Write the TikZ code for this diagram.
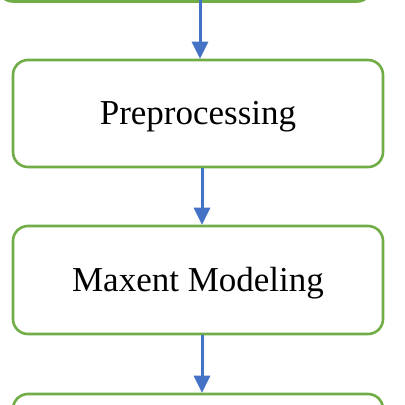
\documentclass[tikz,border=0pt]{standalone}
\usepackage{fontspec}
\setmainfont{Liberation Serif}
\usetikzlibrary{arrows.meta}
\definecolor{boxgreen}{HTML}{70AD47}
\definecolor{arrowblue}{HTML}{4472C4}
\newcommand{\lowtext}[1]{\raisebox{-3pt}[\height][\depth]{#1}}
\begin{document}
\begin{tikzpicture}[x=1pt,y=-1pt,
  stepbox/.style={draw=boxgreen, line width=2.6pt, rounded corners=15pt, fill=white,
    minimum width=370pt, minimum height=107pt, inner sep=0pt,
    font=\fontsize{35pt}{40pt}\selectfont},
  flow/.style={draw=arrowblue, line width=3pt, -{Triangle[length=17pt,width=16pt]}}]
\useasboundingbox (0,0) rectangle (405,405);
\node[stepbox, minimum width=374pt] (top) at (185,-52) {};
\node[stepbox] (pre) at (198,113.5) {\lowtext{Preprocessing}};
\node[stepbox, minimum height=108pt] (max) at (198,280) {\lowtext{Maxent Modeling}};
\node[stepbox] (bot) at (198,447.5) {};
\coordinate (a1s) at (200,0);
\coordinate (a1e) at (200,60);
\draw[flow] (a1s) -- (a1e |- pre.north);
\draw[flow] ([xshift=4pt]pre.south) -- ([xshift=4pt]max.north);
\draw[flow] ([xshift=4pt]max.south) -- ([xshift=4pt]bot.north);
\end{tikzpicture}
\end{document}
